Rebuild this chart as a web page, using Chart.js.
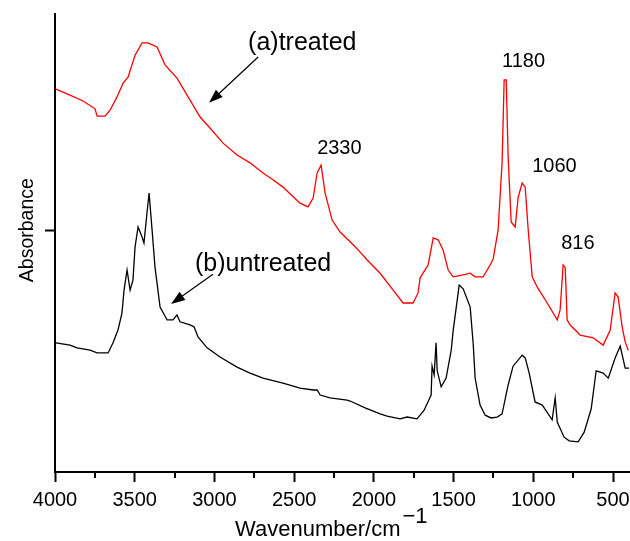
<!DOCTYPE html>
<html>
<head>
<meta charset="utf-8">
<script src="https://cdn.jsdelivr.net/npm/chart.js@4"></script>
<style>
  html, body { margin: 0; padding: 0; background: #fff; }
  canvas { display: block; }
</style>
</head>
<body>
<canvas id="ftir-chart" width="630" height="541"></canvas>
<script>
// FTIR spectra, wavenumber (cm-1) vs absorbance (arb. units)
const treatedWavenumber = [3994, 3906, 3824, 3749, 3736, 3686, 3655, 3611, 3573, 3542, 3498, 3454, 3417, 3360, 3310, 3235, 3153, 3090, 3028, 2946, 2858, 2777, 2695, 2633, 2570, 2513, 2463, 2413, 2381, 2356, 2331, 2306, 2262, 2212, 2130, 2080, 2042, 1961, 1879, 1817, 1754, 1723, 1710, 1660, 1628, 1597, 1566, 1534, 1503, 1446, 1396, 1365, 1315, 1271, 1252, 1221, 1196, 1183, 1170, 1158, 1139, 1114, 1095, 1070, 1051, 1032, 1007, 976, 913, 850, 832, 813, 800, 788, 769, 706, 625, 562, 518, 487, 468, 443, 424, 405];
const treatedAbsorbance = [0.836, 0.823, 0.810, 0.793, 0.777, 0.777, 0.790, 0.819, 0.849, 0.862, 0.910, 0.937, 0.937, 0.928, 0.889, 0.860, 0.812, 0.775, 0.751, 0.718, 0.692, 0.675, 0.653, 0.638, 0.622, 0.603, 0.587, 0.579, 0.598, 0.653, 0.670, 0.609, 0.550, 0.524, 0.496, 0.478, 0.463, 0.434, 0.397, 0.369, 0.369, 0.391, 0.424, 0.452, 0.511, 0.507, 0.485, 0.441, 0.426, 0.430, 0.434, 0.426, 0.426, 0.452, 0.465, 0.528, 0.675, 0.856, 0.856, 0.688, 0.546, 0.535, 0.600, 0.631, 0.622, 0.528, 0.426, 0.404, 0.369, 0.332, 0.354, 0.452, 0.446, 0.332, 0.321, 0.299, 0.293, 0.277, 0.310, 0.391, 0.382, 0.317, 0.284, 0.266];

const untreatedWavenumber = [3994, 3906, 3862, 3780, 3736, 3667, 3636, 3605, 3580, 3567, 3548, 3529, 3511, 3498, 3479, 3454, 3442, 3423, 3410, 3391, 3373, 3341, 3297, 3260, 3235, 3216, 3153, 3128, 3103, 3046, 2965, 2858, 2777, 2695, 2570, 2463, 2381, 2356, 2337, 2275, 2168, 2149, 2055, 1961, 1917, 1835, 1792, 1729, 1685, 1641, 1635, 1622, 1610, 1603, 1578, 1547, 1515, 1503, 1465, 1440, 1396, 1377, 1365, 1334, 1302, 1265, 1227, 1196, 1158, 1127, 1070, 1051, 1026, 989, 944, 882, 863, 850, 807, 775, 719, 681, 637, 606, 562, 530, 487, 455, 424, 400];
const untreatedAbsorbance = [0.282, 0.277, 0.271, 0.266, 0.260, 0.260, 0.282, 0.310, 0.347, 0.397, 0.441, 0.397, 0.419, 0.491, 0.535, 0.513, 0.500, 0.566, 0.609, 0.528, 0.448, 0.360, 0.332, 0.332, 0.343, 0.328, 0.321, 0.317, 0.295, 0.271, 0.251, 0.229, 0.216, 0.205, 0.194, 0.183, 0.179, 0.179, 0.168, 0.162, 0.157, 0.155, 0.140, 0.127, 0.122, 0.116, 0.120, 0.116, 0.135, 0.168, 0.231, 0.212, 0.282, 0.221, 0.186, 0.205, 0.266, 0.308, 0.408, 0.400, 0.360, 0.279, 0.205, 0.146, 0.124, 0.118, 0.120, 0.127, 0.190, 0.231, 0.255, 0.249, 0.216, 0.153, 0.146, 0.114, 0.162, 0.109, 0.076, 0.068, 0.066, 0.087, 0.138, 0.221, 0.216, 0.205, 0.249, 0.275, 0.227, 0.227];

const xMajorTicks = [4000, 3500, 3000, 2500, 2000, 1500, 1000, 500];
const xMinorTicks = [3750, 3250, 2750, 2250, 1750, 1250, 750];
const yTicks = [0.528];

// peak labels and curve captions: text, wavenumber, absorbance (left/baseline anchor)
const peakLabels = [
    { text: "2330", x: 2356, y: 0.694 },
    { text: "1180", x: 1196, y: 0.884 },
    { text: "1060", x: 1007, y: 0.655 },
    { text: "816", x: 825, y: 0.487 }
];
const curveLabels = [
    { text: "(a)treated", x: 2789, y: 0.921, arrowFrom: [2726, 0.906], arrowTo: [3034, 0.806] },
    { text: "(b)untreated", x: 3122, y: 0.439, arrowFrom: [3009, 0.432], arrowTo: [3272, 0.367] }
];

const FONT = "'Liberation Sans', Arial, Helvetica, sans-serif";

function toPoints(xs, ys) {
    return xs.map((x, i) => ({ x: x, y: ys[i] }));
}

const annotationPlugin = {
    id: "spectrumAnnotations",
    afterDraw(chart) {
        const ctx = chart.ctx;
        const xs = chart.scales.x;
        const ys = chart.scales.y;
        ctx.save();
        ctx.fillStyle = "#000";
        ctx.strokeStyle = "#000";

        // minor ticks on the wavenumber axis
        ctx.lineWidth = 2;
        xMinorTicks.forEach(v => {
            const px = Math.round(xs.getPixelForValue(v));
            ctx.beginPath();
            ctx.moveTo(px, xs.top);
            ctx.lineTo(px, xs.top + 6);
            ctx.stroke();
        });

        // peak positions
        ctx.font = "20px " + FONT;
        ctx.textBaseline = "alphabetic";
        ctx.textAlign = "left";
        peakLabels.forEach(l => {
            ctx.fillText(l.text, xs.getPixelForValue(l.x), ys.getPixelForValue(l.y));
        });

        // curve captions with arrows
        ctx.font = "25px " + FONT;
        curveLabels.forEach(l => {
            ctx.fillText(l.text, xs.getPixelForValue(l.x), ys.getPixelForValue(l.y));
            const x0 = xs.getPixelForValue(l.arrowFrom[0]);
            const y0 = ys.getPixelForValue(l.arrowFrom[1]);
            const x1 = xs.getPixelForValue(l.arrowTo[0]);
            const y1 = ys.getPixelForValue(l.arrowTo[1]);
            const ang = Math.atan2(y1 - y0, x1 - x0);
            const headLen = 14, headHalf = 5;
            ctx.lineWidth = 1.2;
            ctx.beginPath();
            ctx.moveTo(x0, y0);
            ctx.lineTo(x1 - Math.cos(ang) * headLen * 0.8, y1 - Math.sin(ang) * headLen * 0.8);
            ctx.stroke();
            ctx.beginPath();
            ctx.moveTo(x1, y1);
            ctx.lineTo(x1 - Math.cos(ang) * headLen - Math.sin(ang) * headHalf,
                       y1 - Math.sin(ang) * headLen + Math.cos(ang) * headHalf);
            ctx.lineTo(x1 - Math.cos(ang) * headLen + Math.sin(ang) * headHalf,
                       y1 - Math.sin(ang) * headLen - Math.cos(ang) * headHalf);
            ctx.closePath();
            ctx.fill();
        });

        // axis titles
        ctx.font = "22px " + FONT;
        const main = "Wavenumber/cm";
        const sup = "\u22121";
        const wMain = ctx.measureText(main).width;
        ctx.fillText(main, 235, 536);
        ctx.fillText(sup, 235 + wMain + 2, 523);

        ctx.translate(33, ys.getPixelForValue(yTicks[0]));
        ctx.rotate(-Math.PI / 2);
        ctx.textAlign = "center";
        ctx.font = "19.5px " + FONT;
        ctx.fillText("Absorbance", 0, 0);
        ctx.restore();
    }
};

new Chart(document.getElementById("ftir-chart"), {
    type: "line",
    data: {
        datasets: [
            {
                label: "(a)treated",
                data: toPoints(treatedWavenumber, treatedAbsorbance),
                borderColor: "#ff0000",
                borderWidth: 1.3,
                pointRadius: 0,
                tension: 0,
                fill: false
            },
            {
                label: "(b)untreated",
                data: toPoints(untreatedWavenumber, untreatedAbsorbance),
                borderColor: "#000000",
                borderWidth: 1.3,
                pointRadius: 0,
                tension: 0,
                fill: false
            }
        ]
    },
    options: {
        responsive: false,
        animation: false,
        devicePixelRatio: 1,
        layout: { padding: { top: 14, right: 1, left: 0, bottom: 0 } },
        plugins: {
            legend: { display: false },
            tooltip: { enabled: false }
        },
        scales: {
            x: {
                type: "linear",
                position: "bottom",
                reverse: true,
                min: 400,
                max: 4000,
                afterBuildTicks: scale => { scale.ticks = xMajorTicks.map(v => ({ value: v })); },
                afterFit: scale => {
                    scale.height = 69;
                    scale.paddingLeft = 0;
                    scale.paddingRight = 0;
                },
                border: { display: true, color: "#000", width: 2 },
                grid: { drawOnChartArea: false, drawTicks: true, tickLength: 10, tickWidth: 2, tickColor: "#000" },
                ticks: {
                    color: "#000",
                    font: { family: FONT, size: 20 },
                    padding: 6,
                    maxRotation: 0,
                    autoSkip: false,
                    callback: v => String(v)
                }
            },
            y: {
                type: "linear",
                position: "left",
                min: 0,
                max: 1,
                afterBuildTicks: scale => { scale.ticks = yTicks.map(v => ({ value: v })); },
                afterFit: scale => {
                    scale.width = 55;
                    scale.paddingTop = 0;
                    scale.paddingBottom = 0;
                },
                border: { display: true, color: "#000", width: 2 },
                grid: { drawOnChartArea: false, drawTicks: true, tickLength: 10, tickWidth: 2, tickColor: "#000" },
                ticks: { callback: () => "" }
            }
        }
    },
    plugins: [annotationPlugin]
});
</script>
</body>
</html>
